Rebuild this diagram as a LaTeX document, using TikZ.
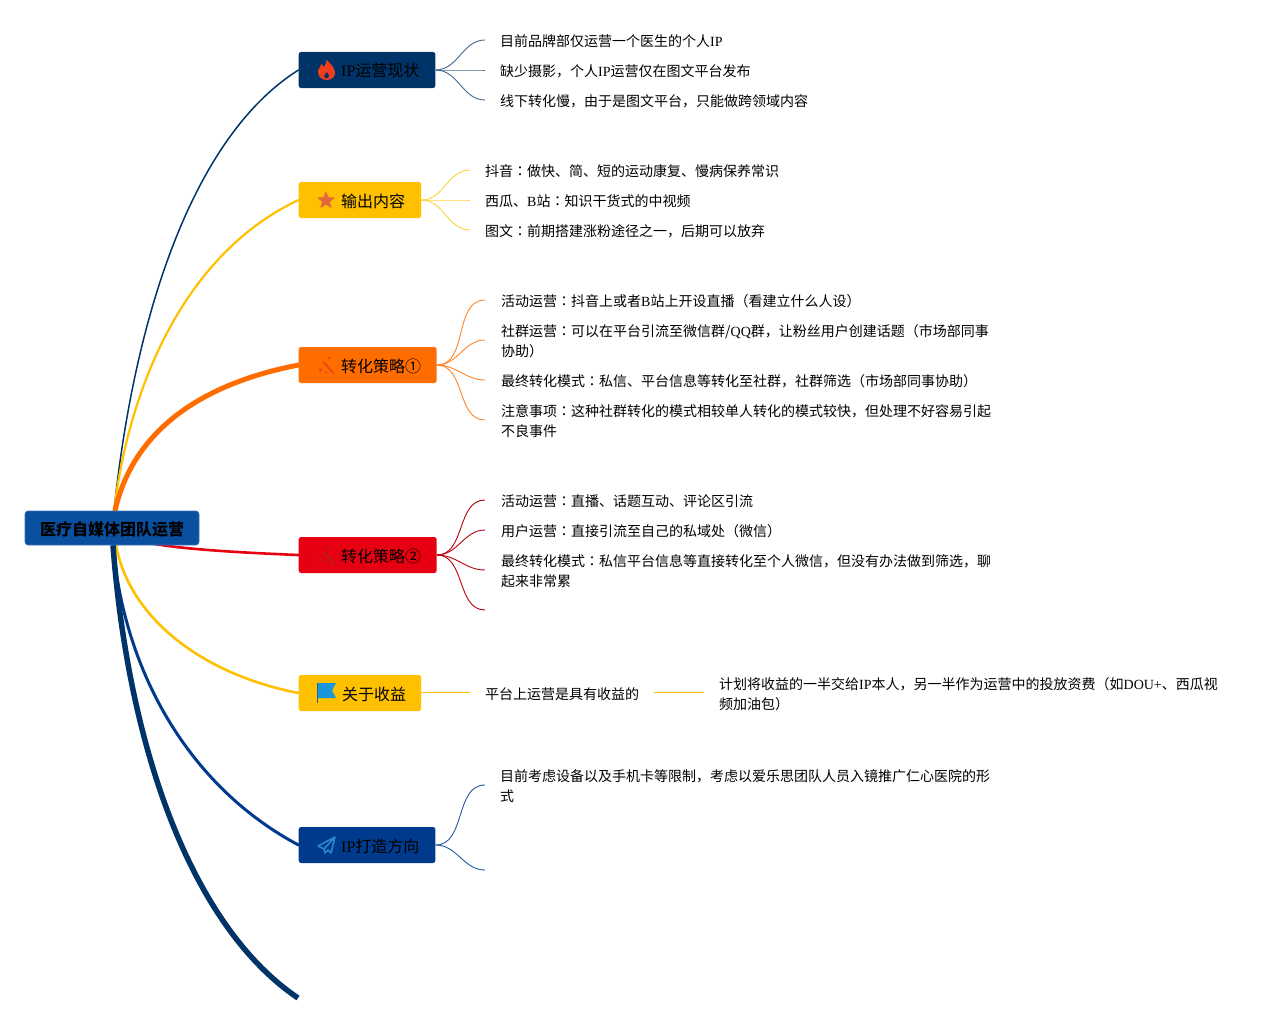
\documentclass[tikz,border=0pt]{standalone}
\usepackage{fontspec}
\setmainfont{Noto Sans CJK SC}
\newfontfamily\latinfont{Liberation Serif}
\newfontfamily\tcfont{Noto Sans CJK TC}
\newcommand{\la}[1]{{\latinfont #1}}
\newcommand{\mh}{{\tcfont ：}}
\usepackage{tikz}
\usetikzlibrary{shapes.geometric,backgrounds}
\definecolor{rootcol}{RGB}{10,80,160}
\definecolor{navycol}{RGB}{0,52,105}
\definecolor{ambercol}{RGB}{255,192,0}
\definecolor{orangecol}{RGB}{255,109,0}
\definecolor{redcol}{RGB}{230,0,18}
\definecolor{bluecol}{RGB}{0,58,140}
\definecolor{flamecol}{RGB}{240,62,28}
\definecolor{starcol}{RGB}{229,104,58}
\definecolor{flagcol}{RGB}{27,150,220}
\definecolor{planecol}{RGB}{40,134,208}
\tikzset{
  rootbox/.style={rounded corners=3pt,draw=rootcol!80!white,fill=rootcol,line width=.6pt,
    minimum width=174,minimum height=34,inner sep=0pt,text height=14pt,text depth=0pt,
    font=\fontsize{16}{20}\selectfont\bfseries},
  branch/.style={rounded corners=2.5pt,anchor=west,minimum height=36,inner ysep=0pt,
    inner xsep=0pt,text height=14pt,text depth=0pt,
    align=left,font=\fontsize{16}{20}\selectfont},
  leaf/.style={anchor=west,inner ysep=0pt,inner xsep=15pt,align=left,
    font=\fontsize{14}{20}\selectfont},
  trunk/.style={line cap=round},
  twig/.style={line width=.9pt},
}
\begin{document}
\begin{tikzpicture}[x=1pt,y=-1pt]
  \useasboundingbox (0,0) rectangle (1279,1025);
  \node[rootbox] (root) at (112,528) {医疗自媒体团队运营};
  % branches
  \node[branch,fill=navycol] (now) at (298.5,70) {\hspace{42.5pt}\la{IP}运营现状\hspace{16pt}};
  \node[branch,fill=ambercol] (out) at (298.5,200) {\hspace{42.5pt}输出内容\hspace{16pt}};
  \node[branch,fill=orangecol] (convA) at (298.5,365) {\hspace{42.5pt}转化策略①\hspace{15.5pt}};
  \node[branch,fill=redcol] (convB) at (298.5,555) {\hspace{42.5pt}转化策略②\hspace{15.5pt}};
  \node[branch,fill=ambercol] (gain) at (298.5,693) {\hspace{43.5pt}关于收益\hspace{15pt}};
  \node[branch,fill=bluecol] (plan) at (298.5,845) {\hspace{42.5pt}\la{IP}打造方向\hspace{16pt}};
  \coordinate (tail) at (298,998);
  % leaves of the first branch
  \node[leaf] (nowA) at (485,41) {目前品牌部仅运营一个医生的个人\la{IP}};
  \node[leaf] (nowB) at (485,71) {缺少摄影，个人\la{IP}运营仅在图文平台发布};
  \node[leaf] (nowC) at (485,101) {线下转化慢，由于是图文平台，只能做跨领域内容};
  \node[leaf] (outA) at (470,171) {抖音\mh 做快、简、短的运动康复、慢病保养常识};
  \node[leaf] (outB) at (470,201) {西瓜、\la{B}站\mh 知识干货式的中视频};
  \node[leaf] (outC) at (470,231) {图文\mh 前期搭建涨粉途径之一，后期可以放弃};
  \node[leaf] (aA) at (486,301) {活动运营\mh 抖音上或者\la{B}站上开设直播（看建立什么人设）};
  \node[leaf] (aB) at (486,341) {社群运营\mh 可以在平台引流至微信群/\la{QQ}群，让粉丝用户创建话题（市场部同事\\协助）};
  \node[leaf] (aC) at (486,381) {最终转化模式\mh 私信、平台信息等转化至社群，社群筛选（市场部同事协助）};
  \node[leaf] (aD) at (486,421) {注意事项\mh 这种社群转化的模式相较单人转化的模式较快，但处理不好容易引起\\不良事件};
  \node[leaf] (bA) at (486,501) {活动运营\mh 直播、话题互动、评论区引流};
  \node[leaf] (bB) at (486,531) {用户运营\mh 直接引流至自己的私域处（微信）};
  \node[leaf] (bC) at (486,571) {最终转化模式\mh 私信平台信息等直接转化至个人微信，但没有办法做到筛选，聊\\起来非常累};
  \coordinate (bD) at (485,610);
  \node[leaf] (gainA) at (470,694) {平台上运营是具有收益的};
  \node[leaf] (gainB) at (704,694) {计划将收益的一半交给\la{IP}本人，另一半作为运营中的投放资费（如\la{DOU+}、西瓜视\\频加油包）};
  \node[leaf] (planA) at (485,786) {目前考虑设备以及手机卡等限制，考虑以爱乐思团队人员入镜推广仁心医院的形\\式};
  \coordinate (planB) at (485,870);
  % icons, inside the boxes
  \begin{scope}[shift={(326.5,70)}]
    \fill[flamecol,even odd rule] (0,10) .. controls (-5,10) and (-8.5,6.5) .. (-8.5,2)
      .. controls (-8.5,-2) and (-5.5,-3) .. (-5,-6)
      .. controls (-3.5,-5) and (-3,-4) .. (-2.5,-3)
      .. controls (-1,-5) and (0,-8) .. (0,-10)
      .. controls (3,-7) and (8.5,-3) .. (8.5,3)
      .. controls (8.5,7) and (5,10) .. (0,10) -- cycle
      (0,8.5) .. controls (-2,8.5) and (-3,7) .. (-2.3,5.2)
      .. controls (-1.6,3.8) and (0,3.5) .. (0.4,2)
      .. controls (1.5,3.5) and (2.8,4.5) .. (2.5,6.2)
      .. controls (2.2,7.6) and (1.4,8.5) .. (0,8.5) -- cycle;
  \end{scope}
  \node[star,star points=5,star point ratio=2.3,fill=starcol,inner sep=0pt,
    minimum size=19pt,rounded corners=.6pt] (outstar) at (326,200.5) {};
  \foreach \wy/\wcol in {0/flamecol,190/flamecol!70!black}{
    \draw[\wcol,line width=1.5pt] (323.5,362+\wy) -- (334,374+\wy);
    \fill[\wcol] (329,356.5+\wy) -- (330.3,358+\wy) -- (329,359.5+\wy) -- (327.7,358+\wy) -- cycle;
    \fill[\wcol] (320.5,368+\wy) -- (322.2,370+\wy) -- (320.5,372+\wy) -- (318.8,370+\wy) -- cycle;
    \fill[\wcol] (326,371+\wy) -- (327,372.5+\wy) -- (326,374+\wy) -- (325,372.5+\wy) -- cycle;}
  \fill[flagcol] (317,683) -- (336,683) -- (332,690.5) -- (336,698) -- (317,698) -- cycle;
  \draw[flagcol!70!black,line width=.8pt] (317,683) -- (317,703);
  \draw[planecol,line width=1.6pt,line join=round]
    (335,837) -- (318,846) -- (324,849) -- (325,853) -- (328,850) -- (331,853) -- cycle
    (335,837) -- (324,849);
  % everything that joins the boxes runs behind them
  \begin{scope}[on background layer]
    \draw[trunk,navycol,line width=1.5pt] ([xshift=2pt]root.north) .. controls (135,310) and (195,135) .. (now.west);
    \draw[trunk,ambercol,line width=2.2pt] ([xshift=2pt]root.north) .. controls (130,380) and (188,252) .. (out.west);
    \draw[trunk,orangecol,line width=5pt] ([xshift=3pt]root.north) .. controls (132,435) and (195,385) .. (convA.west);
    \draw[trunk,redcol,line width=2.6pt] (root.center) .. controls (120,545) and (200,551) .. (convB.west);
    \draw[trunk,ambercol,line width=2.6pt] ([xshift=4pt]root.south) .. controls (130,620) and (205,675) .. (gain.west);
    \draw[trunk,bluecol,line width=3pt] ([xshift=1pt]root.south) .. controls (125,680) and (195,790) .. (plan.west);
    \draw[navycol,line width=5.5pt] ([xshift=1pt]root.south) .. controls (128,745) and (190,925) .. (tail);
    \foreach \a in {nowA,nowB,nowC}{
      \draw[twig,navycol!75] (now.east) to[out=0,in=180] ([yshift=1pt]\a.west);}
    \foreach \a in {outA,outB,outC}{
      \draw[twig,ambercol!75] (out.east) to[out=0,in=180] ([yshift=1pt]\a.west);}
    \foreach \a in {aA,aB,aC,aD}{
      \draw[twig,orangecol!85] (convA.east) to[out=0,in=180] ([xshift=-1pt,yshift=1pt]\a.west);}
    \foreach \a in {bA,bB,bC}{
      \draw[twig,redcol!80!black] (convB.east) to[out=0,in=180] ([xshift=-1pt,yshift=1pt]\a.west);}
    \draw[twig,redcol!80!black] (convB.east) to[out=0,in=180] (bD);
    \draw[ambercol,line width=1pt] ([yshift=.5pt]gain.east) -- ([yshift=1.5pt]gainA.west);
    \draw[ambercol,line width=1pt] ([yshift=1.5pt]gainA.east) -- ([yshift=1.5pt]gainB.west);
    \draw[twig,bluecol!85] (plan.east) to[out=0,in=180] ([yshift=1pt]planA.west);
    \draw[twig,bluecol!85] (plan.east) to[out=0,in=180] (planB);
  \end{scope}
\end{tikzpicture}
\end{document}
